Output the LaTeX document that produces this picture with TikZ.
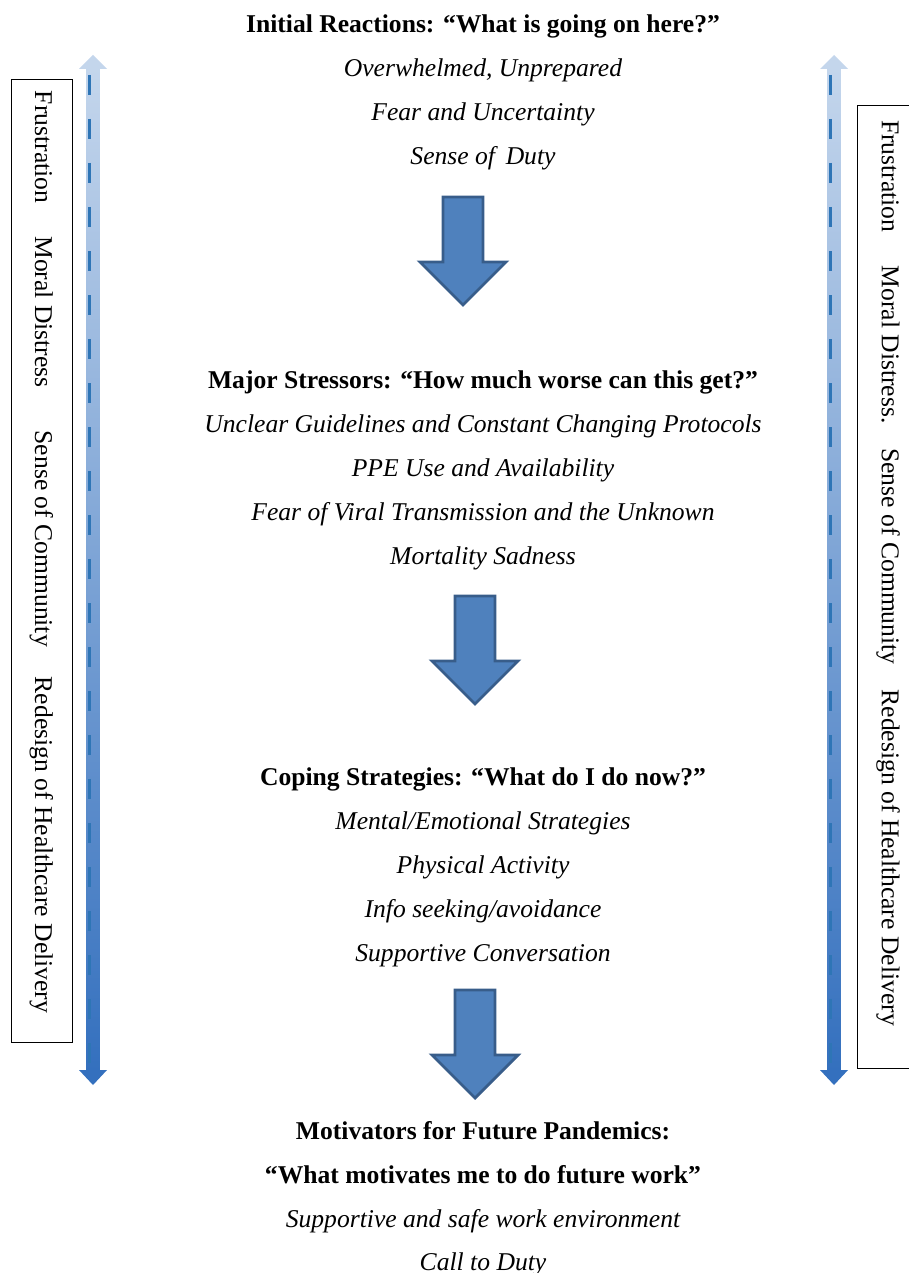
\documentclass[tikz,border=0pt]{standalone}
\usepackage{fontspec}
\setmainfont{Liberation Serif}
\usepackage{xcolor}
\usetikzlibrary{positioning}
\definecolor{arrowfill}{RGB}{79,129,189}
\definecolor{arrowline}{RGB}{56,93,138}
\definecolor{bandtop}{RGB}{196,214,236}
\definecolor{bandbot}{RGB}{52,112,190}
\definecolor{banddash}{RGB}{46,117,182}

\begin{document}
\begin{tikzpicture}[x=0.5pt, y=-0.5pt,
  head/.style={font=\fontsize{12.8}{15}\selectfont\bfseries, anchor=base, inner sep=0pt},
  item/.style={font=\fontsize{12.8}{15}\selectfont\itshape, anchor=base, inner sep=0pt},
  sidebox/.style={draw, line width=0.5pt, rotate=-90, minimum width=481pt, minimum height=30.5pt, inner sep=0pt, font=\fontsize{12.8}{15}\selectfont},
  bigarrow/.style={fill=arrowfill, draw=arrowline, line width=1.4pt},
  bigdown/.pic={\draw[bigarrow] (-20,0) -- (20,0) -- (20,65) -- (43,65) -- (0,108) -- (-43,65) -- (-20,65) -- cycle;},
  sidearrow/.pic={
    \shade[top color=bandtop, bottom color=bandbot] (-6.5,68) rectangle (6.5,1071);
    \fill[bandtop] (-14,69) -- (0,55) -- (14,69) -- cycle;
    \fill[bandbot] (-14,1070) -- (0,1085) -- (14,1070) -- cycle;
    \draw[banddash, line width=1.3pt, dash pattern=on 10pt off 12pt] (-3.5,75) -- (-3.5,1065);}]
\useasboundingbox (0,0) rectangle (909,1273);

% side arrows and boxes
\pic at (93,0) {sidearrow};
\pic at (834,0) {sidearrow};
\node[sidebox] (left) at (41.5,561) {Frustration\hspace{16.5pt}Moral Distress\hspace{21.5pt}Sense of Community\hspace{15pt}Redesign of Healthcare Delivery\kern9pt};
\node[sidebox] (right) at (888,587) {Frustration\hspace{16.5pt}Moral Distress.\hspace{12.5pt}Sense of Community\hspace{12.5pt}Redesign of Healthcare Delivery\kern14pt};

% initial reactions
\node[head] (init) at (483,33) {Initial Reactions: “What is going on here?”};
\node[below=22pt of init.base, item] (init1) {Overwhelmed, Unprepared};
\node[below=22pt of init1.base, item] (init2) {Fear and Uncertainty};
\node[below=22pt of init2.base, item] (init3) {Sense of\, Duty};
\pic at (463,197) {bigdown};

% major stressors
\node[head] (major) at (483,388) {Major Stressors: “How much worse can this get?”};
\node[below=22pt of major.base, item] (major1) {Unclear Guidelines and Constant Changing Protocols};
\node[below=22pt of major1.base, item] (major2) {PPE Use and Availability};
\node[below=22pt of major2.base, item] (major3) {Fear of Viral Transmission and the Unknown};
\node[below=22pt of major3.base, item] (major4) {Mortality Sadness};
\pic at (475,596) {bigdown};

% coping strategies
\node[head] (cope) at (483,785) {Coping Strategies: “What do I do now?”};
\node[below=22pt of cope.base, item] (cope1) {Mental/Emotional Strategies};
\node[below=22pt of cope1.base, item] (cope2) {Physical Activity};
\node[below=22pt of cope2.base, item] (cope3) {Info seeking/avoidance};
\node[below=22pt of cope3.base, item] (cope4) {Supportive Conversation};
\pic at (475,990) {bigdown};

% motivators
\node[head] (motiv) at (483,1139) {Motivators for Future Pandemics:};
\node[below=22pt of motiv.base, head] (motiv0) {“What motivates me to do future work”};
\node[below=22pt of motiv0.base, item] (motiv1) {Supportive and safe work environment};
\node[below=21.5pt of motiv1.base, item] (motiv2) {Call to Duty};
\end{tikzpicture}
\end{document}
